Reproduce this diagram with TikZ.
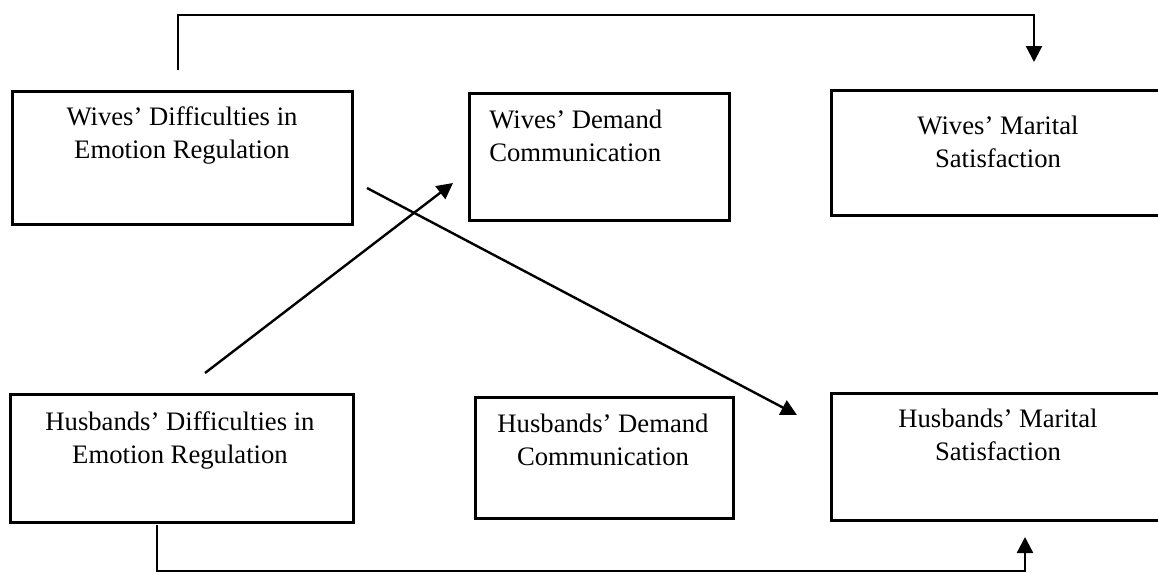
\documentclass[tikz,border=0pt]{standalone}
\usepackage{fontspec}
\setmainfont{Liberation Serif}
\usetikzlibrary{arrows.meta}
\begin{document}
\begin{tikzpicture}[x=0.75pt,y=-0.75pt,
  box/.style={draw, line width=1.9pt, inner sep=0pt, anchor=north west},
  lbl/.style={font=\fontsize{20}{24.75}\selectfont, inner sep=0pt, align=center, anchor=base},
  arr/.style={line width=1.8pt, -{Triangle[length=12pt,width=12pt]}}]
\useasboundingbox (0,0) rectangle (1158,572);
% boxes
\node[box, minimum width=255pt, minimum height=99.75pt] (wd) at (11,90) {};
\node[box, minimum width=195pt, minimum height=95.25pt] (wdc) at (468,92) {};
\node[box, minimum width=255pt, minimum height=93.75pt] (wms) at (830,89) {};
\node[box, minimum width=257.25pt, minimum height=96pt] (hd) at (9,393) {};
\node[box, minimum width=193.5pt, minimum height=90.75pt] (hdc) at (474,396) {};
\node[box, minimum width=255pt, minimum height=95.25pt] (hms) at (830,392) {};
% texts (anchored at the baseline of the last line)
\node[lbl] (wdt) at (182,158) {Wives' Difficulties in\\Emotion Regulation};
\node[lbl, align=left, anchor=base west] (wdct) at (489,161) {Wives' Demand\\Communication};
\node[lbl] (wmst) at (998,167) {Wives' Marital\\Satisfaction};
\node[lbl] (hdt) at (180,463) {Husbands' Difficulties in\\Emotion Regulation};
\node[lbl] (hdct) at (603,465) {Husbands' Demand\\Communication};
\node[lbl] (hmst) at (998,460) {Husbands' Marital\\Satisfaction};
% connector end points
\coordinate (a1) at (178,70);
\coordinate (a2) at (1034,62);
\coordinate (b1) at (205,373);
\coordinate (b2) at (453,183);
\coordinate (c1) at (367,188);
\coordinate (c2) at (797,415);
\coordinate (d1) at (157,525);
\coordinate (d2) at (1025,537);
% connectors
\draw[arr] (a1) -- (a1 |- 0,15) -- (a2 |- 0,15) -- (a2);
\draw[arr] (b1) -- (b2);
\draw[arr] (c1) -- (c2);
\draw[arr] (d1) -- (d1 |- 0,571) -- (d2 |- 0,571) -- (d2);
\end{tikzpicture}
\end{document}
